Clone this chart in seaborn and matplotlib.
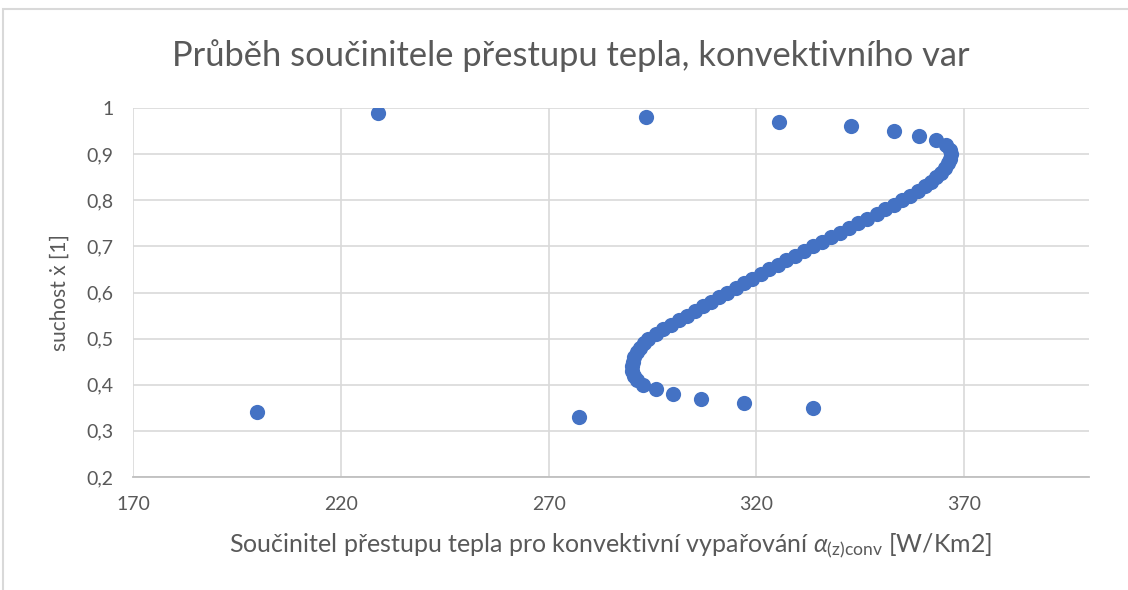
import matplotlib
matplotlib.use("Agg")
import matplotlib.pyplot as plt
from matplotlib.ticker import FuncFormatter, MultipleLocator
from matplotlib.patches import Rectangle
import seaborn as sns
import pandas as pd

# suchost x [1]
suchost = [0.99, 0.98, 0.97, 0.96, 0.95, 0.94, 0.93, 0.92, 0.91, 0.90,
           0.89, 0.88, 0.87, 0.86, 0.85, 0.84, 0.83, 0.82, 0.81, 0.80,
           0.79, 0.78, 0.77, 0.76, 0.75, 0.74, 0.73, 0.72, 0.71, 0.70,
           0.69, 0.68, 0.67, 0.66, 0.65, 0.64, 0.63, 0.62, 0.61, 0.60,
           0.59, 0.58, 0.57, 0.56, 0.55, 0.54, 0.53, 0.52, 0.51, 0.50,
           0.49, 0.48, 0.47, 0.46, 0.45, 0.44, 0.43, 0.42, 0.41, 0.40,
           0.39, 0.38, 0.37, 0.36, 0.35, 0.34, 0.33]
# alpha(z)conv [W/Km2]
alpha_conv = [228.9, 293.5, 325.3, 342.8, 353.0, 359.2, 363.3, 365.6, 366.5, 366.7,
              366.5, 366.0, 365.3, 364.4, 363.3, 362.0, 360.5, 358.8, 357.0, 355.1,
              353.1, 351.0, 348.9, 346.7, 344.5, 342.3, 340.1, 337.9, 335.7, 333.5,
              331.4, 329.3, 327.2, 325.1, 323.0, 321.0, 319.0, 317.0, 315.0, 313.0,
              311.0, 309.0, 307.1, 305.2, 303.3, 301.4, 299.5, 297.6, 295.8, 294.0,
              292.9, 291.9, 291.2, 290.6, 290.2, 290.0, 290.1, 290.5, 291.3, 292.7,
              295.9, 300.0, 306.7, 317.1, 333.7, 199.9, 277.3]

x_ticks = [170, 220, 270, 320, 370]

df = pd.DataFrame({"alpha": alpha_conv, "x": suchost})

sns.set_theme(style="white")
plt.rcParams["font.family"] = ["Lato", "DejaVu Sans"]
plt.rcParams["mathtext.fontset"] = "custom"
plt.rcParams["mathtext.rm"] = "Lato"
plt.rcParams["mathtext.it"] = "Lato:italic"

text_col = "#595959"
grid_col = "#d9d9d9"

fig = plt.figure(figsize=(11.28, 5.90), dpi=100)
ax = fig.add_axes([133 / 1128, 1 - 477 / 590, (1089 - 133) / 1128, (477 - 108) / 590])

sns.scatterplot(data=df, x="alpha", y="x", ax=ax, color="#4472C4", s=120,
                linewidth=0, zorder=3)

ax.set_xlim(170, 400)
ax.set_ylim(0.2, 1.0)
ax.set_xticks(x_ticks)
ax.yaxis.set_major_locator(MultipleLocator(0.1))
ax.yaxis.set_major_formatter(FuncFormatter(lambda v, p: f"{round(v, 1):g}".replace(".", ",")))

ax.grid(True, color=grid_col, linewidth=1.2)
ax.set_axisbelow(True)
for side in ["top", "right", "left"]:
    ax.spines[side].set_visible(False)
ax.spines["bottom"].set_color("#bfbfbf")
ax.spines["bottom"].set_linewidth(1.3)
ax.tick_params(axis="both", length=0, labelsize=14, labelcolor=text_col)
ax.tick_params(axis="x", pad=14)
ax.tick_params(axis="y", pad=14)

ax.set_xlabel(r"Součinitel přestupu tepla pro konvektivní vypařování $\mathit{\alpha}_{\mathrm{(z)conv}}$ [W/Km2]",
              fontsize=18, color=text_col, labelpad=13)
ax.set_ylabel("suchost ẋ [1]", fontsize=15, color=text_col, labelpad=12)

fig.text(571 / 1128, 1 - 56 / 590, "Průběh součinitele přestupu tepla, konvektivního var",
         ha="center", va="center", fontsize=24.8, color=text_col)

# chart area border
fig.patches.append(Rectangle((3 / 1128, -0.1), 1.2, 1 - 9 / 590 + 0.1, transform=fig.transFigure,
                             fill=False, edgecolor="#d9d9d9", linewidth=1.5))

fig.savefig("out.png", dpi=100)
